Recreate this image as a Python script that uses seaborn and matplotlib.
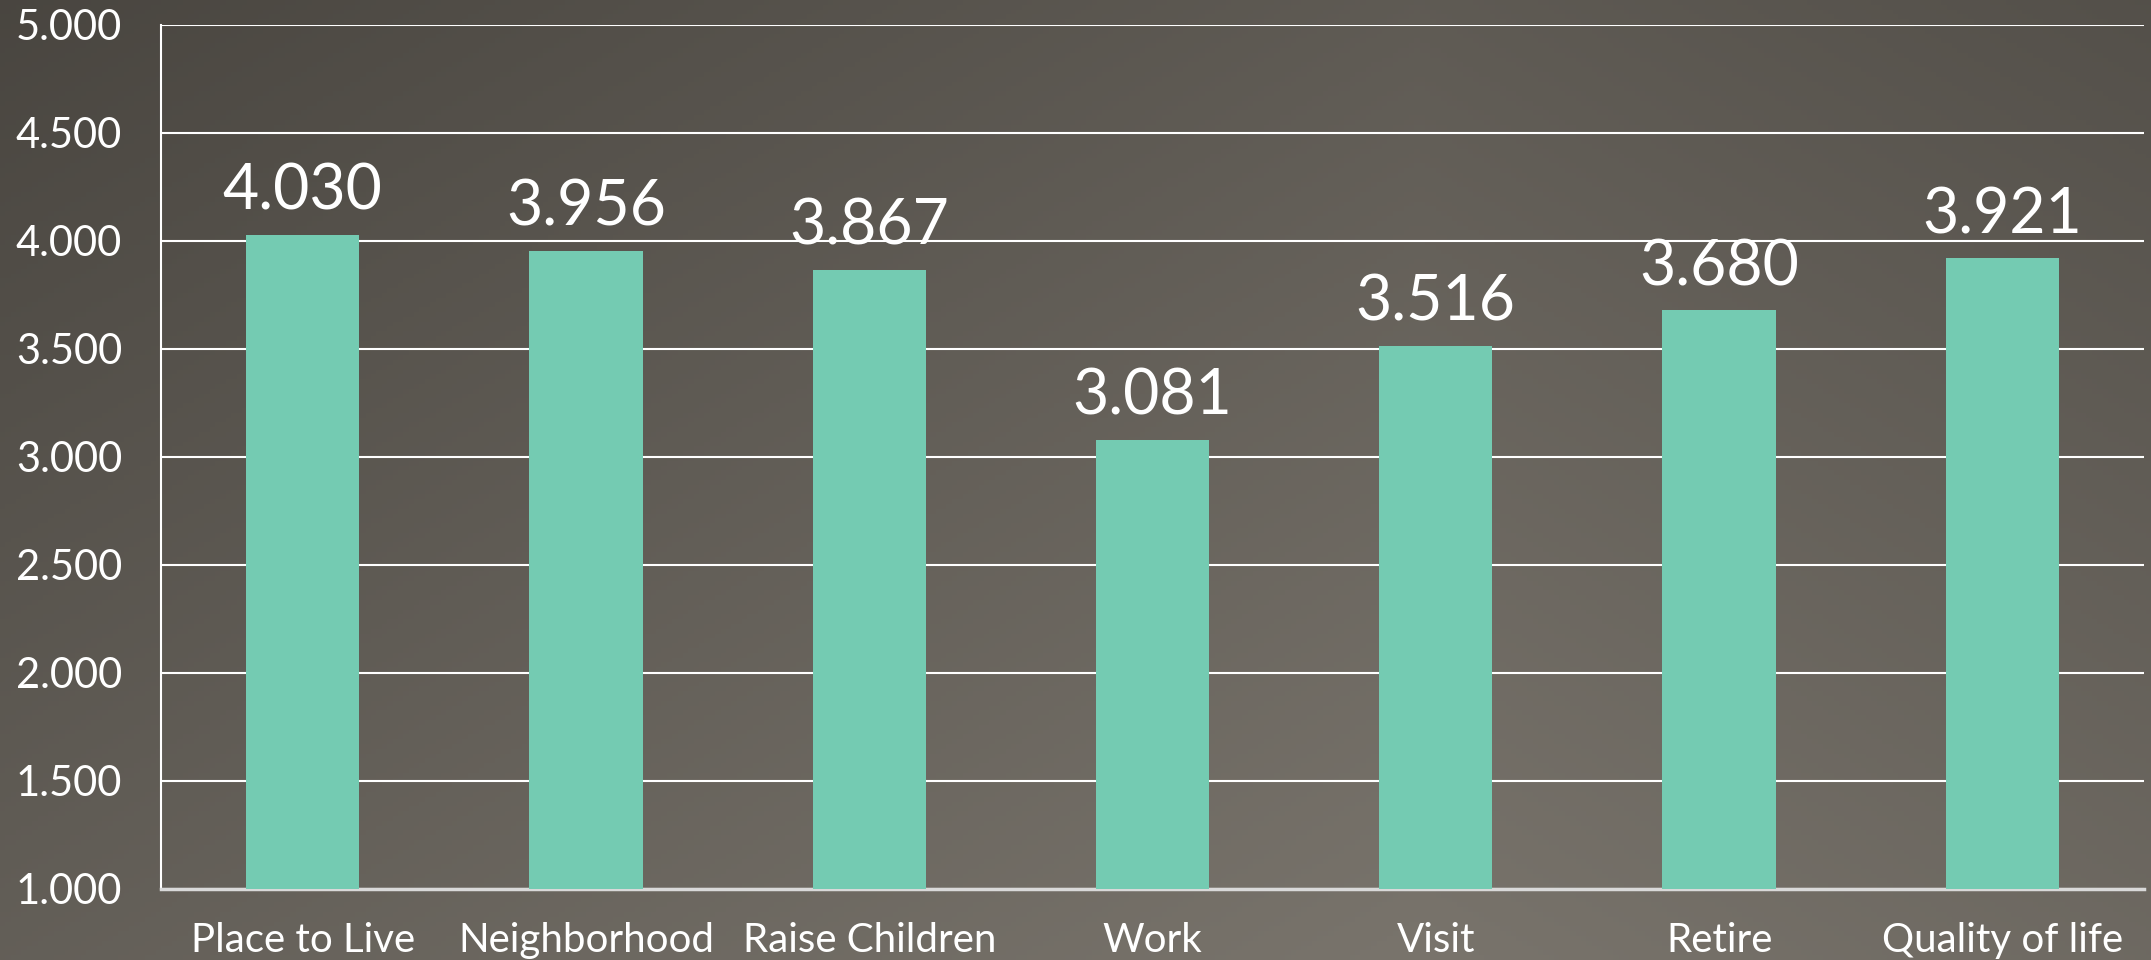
import numpy as np
import pandas as pd
import matplotlib
matplotlib.use("Agg")
import matplotlib.pyplot as plt
import seaborn as sns

categories = ["Place to Live", "Neighborhood", "Raise Children", "Work",
              "Visit", "Retire", "Quality of life"]
scores = [4.030, 3.956, 3.867, 3.081, 3.516, 3.680, 3.921]
y_ticks = [1.0, 1.5, 2.0, 2.5, 3.0, 3.5, 4.0, 4.5, 5.0]

df = pd.DataFrame({"category": categories, "score": scores})

sns.set_theme(style="white")
plt.rcParams["font.family"] = ["Lato", "DejaVu Sans"]

fig = plt.figure(figsize=(21.51, 9.6), dpi=100)

# background: lighter toward bottom-centre-right, darker toward the top corners
bg = fig.add_axes([0, 0, 1, 1], zorder=-1)
xx, yy = np.meshgrid(np.linspace(0, 1, 400), np.linspace(0, 1, 200))
diff = 26 * yy + 33 * np.abs(xx - 0.66)   # yy = 0 is the bottom row
light = np.array([121, 116, 108])
img = np.clip(light[None, None, :] - diff[..., None] * np.array([1.0, 0.97, 0.92]), 0, 255) / 255
bg.imshow(img, aspect="auto", extent=[0, 1, 0, 1], origin="lower")
bg.axis("off")

ax = fig.add_axes([161 / 2151, 1 - 889 / 960, (2144 - 161) / 2151, (889 - 25) / 960])
ax.set_facecolor("none")

sns.barplot(data=df, x="category", y="score", color="#74CBB2", width=0.4,
            saturation=1, linewidth=0, ax=ax, zorder=3)

ax.set_ylim(1.0, 5.0)
ax.set_xlim(-0.5, len(categories) - 0.5)
ax.set_yticks(y_ticks)
ax.set_yticklabels([f"{v:.3f}" for v in y_ticks])
ax.yaxis.grid(True, color="white", linewidth=1.5, zorder=0)
ax.set_axisbelow(True)

ax.set_xticks(np.arange(-0.5, len(categories), 1), minor=True)
ax.tick_params(axis="x", which="major", length=0, pad=24,
               labelsize=29, labelcolor="white")
ax.tick_params(axis="x", which="minor", length=14, width=1.5,
               color="#d9d9d9", direction="out")
ax.tick_params(axis="y", length=14, width=1.5, color="white",
               labelsize=30, labelcolor="white", pad=14, direction="out")

for s in ["top", "right"]:
    ax.spines[s].set_visible(False)
ax.spines["left"].set_color("white")
ax.spines["left"].set_linewidth(1.5)
ax.spines["bottom"].set_color("#d9d9d9")
ax.spines["bottom"].set_linewidth(2.5)

for i, v in enumerate(scores):
    ax.annotate(f"{v:.3f}", (i, v), xytext=(0, 10), textcoords="offset points",
                ha="center", va="bottom", fontsize=45, color="white")

ax.set_xlabel("")
ax.set_ylabel("")

fig.savefig("out.png", dpi=100)
